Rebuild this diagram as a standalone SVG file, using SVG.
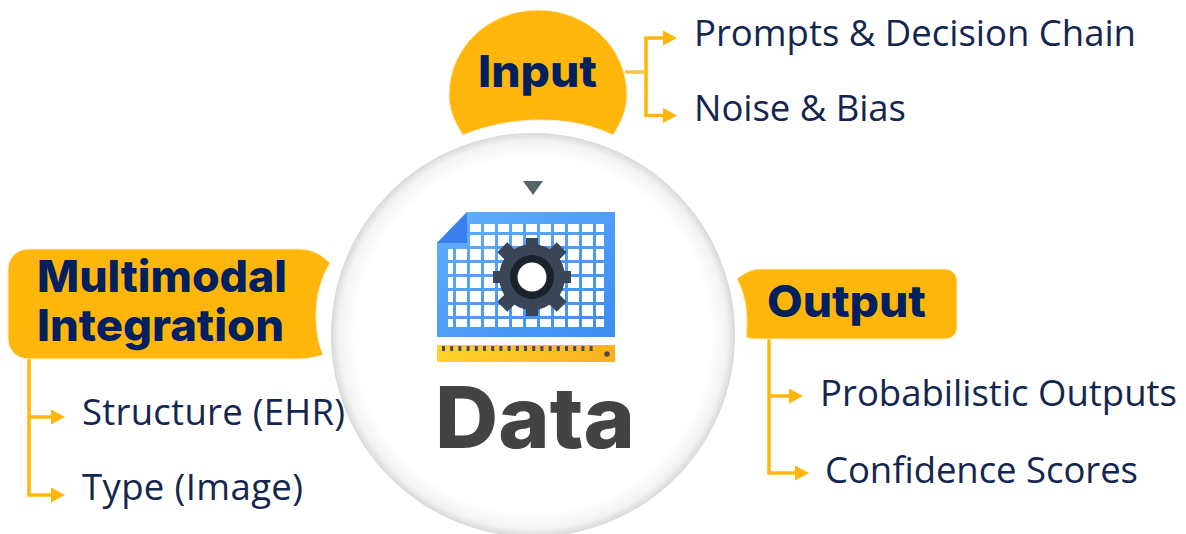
<svg xmlns="http://www.w3.org/2000/svg" width="1186" height="534" viewBox="0 0 1186 534">
<style>
.lbl{font-family:"Open Sans","Liberation Sans",sans-serif;font-size:36.500px;fill:#14264f}
.hd{font-family:Inter,"Liberation Sans",sans-serif;font-weight:800;font-size:44px;fill:#002060}
.badge{fill:#ffb60a;stroke:#fbeecb;stroke-width:1}
.c{fill:none;stroke:#ffb60a;stroke-width:3.500}
</style>
<defs>
<radialGradient id="disc" gradientUnits="userSpaceOnUse" cx="533" cy="335" r="202">
<stop offset="0.88" stop-color="#fff"/><stop offset="0.96" stop-color="#f3f3f3"/><stop offset="0.995" stop-color="#dcdcdc"/><stop offset="1" stop-color="#d4d4d4"/>
</radialGradient>
<linearGradient id="sheet" x1="0" y1="0" x2="1" y2="1"><stop offset="0" stop-color="#62aeff"/><stop offset="1" stop-color="#3d8cf0"/></linearGradient>
<linearGradient id="ruler" x1="0" y1="0" x2="1" y2="0"><stop offset="0" stop-color="#ffd42a"/><stop offset="1" stop-color="#fbb020"/></linearGradient>
<marker id="ah" markerUnits="userSpaceOnUse" markerWidth="14" markerHeight="15" refX="0" refY="7.500" orient="auto"><path d="M0 0L14 7.500L0 15Z" fill="#ffb60a"/></marker>
</defs>
<g id="connectors">
<path class="c" d="M625 72H646" stroke-width="4" style="stroke:#f7c44f"/>
<path class="c" d="M646 38V116"/>
<path class="c" d="M644.300 38H663" marker-end="url(#ah)"/>
<path class="c" d="M644.300 115.500H663" marker-end="url(#ah)"/>
<path class="c" d="M29 358V495"/>
<path class="c" d="M29 417H51" marker-end="url(#ah)"/>
<path class="c" d="M27.300 495H51" marker-end="url(#ah)"/>
<path class="c" d="M769 339V473"/>
<path class="c" d="M769 396H789" marker-end="url(#ah)"/>
<path class="c" d="M767.300 473H795" marker-end="url(#ah)"/>
</g>
<g id="data">
<circle cx="533" cy="335" r="202" fill="url(#disc)"/>
<path d="M523 181H543L533 195Z" fill="#56646c"/>
<path d="M467 212H615V337H437V243Z" fill="url(#sheet)"/>
<path d="M467 212V243H437Z" fill="#3a7fec"/>
<g fill="#fff">
<path d="M470 224h11v8h-11zM484 224h11v8h-11zM498 224h11v8h-11zM512 224h11v8h-11zM526 224h11v8h-11zM540 224h11v8h-11zM554 224h11v8h-11zM568 224h11v8h-11zM582 224h11v8h-11zM596 224h8v8h-8z"/>
<path d="M470 235h11v11h-11zM484 235h11v11h-11zM498 235h11v11h-11zM512 235h11v11h-11zM526 235h11v11h-11zM540 235h11v11h-11zM554 235h11v11h-11zM568 235h11v11h-11zM582 235h11v11h-11zM596 235h8v11h-8z"/>
<path d="M448 249h5v11h-5zM456 249h11v11h-11zM470 249h11v11h-11zM484 249h11v11h-11zM498 249h11v11h-11zM512 249h11v11h-11zM526 249h11v11h-11zM540 249h11v11h-11zM554 249h11v11h-11zM568 249h11v11h-11zM582 249h11v11h-11zM596 249h8v11h-8z"/>
<path d="M448 263h5v11h-5zM456 263h11v11h-11zM470 263h11v11h-11zM484 263h11v11h-11zM498 263h11v11h-11zM512 263h11v11h-11zM526 263h11v11h-11zM540 263h11v11h-11zM554 263h11v11h-11zM568 263h11v11h-11zM582 263h11v11h-11zM596 263h8v11h-8z"/>
<path d="M448 277h5v11h-5zM456 277h11v11h-11zM470 277h11v11h-11zM484 277h11v11h-11zM498 277h11v11h-11zM512 277h11v11h-11zM526 277h11v11h-11zM540 277h11v11h-11zM554 277h11v11h-11zM568 277h11v11h-11zM582 277h11v11h-11zM596 277h8v11h-8z"/>
<path d="M448 291h5v11h-5zM456 291h11v11h-11zM470 291h11v11h-11zM484 291h11v11h-11zM498 291h11v11h-11zM512 291h11v11h-11zM526 291h11v11h-11zM540 291h11v11h-11zM554 291h11v11h-11zM568 291h11v11h-11zM582 291h11v11h-11zM596 291h8v11h-8z"/>
<path d="M448 305h5v11h-5zM456 305h11v11h-11zM470 305h11v11h-11zM484 305h11v11h-11zM498 305h11v11h-11zM512 305h11v11h-11zM526 305h11v11h-11zM540 305h11v11h-11zM554 305h11v11h-11zM568 305h11v11h-11zM582 305h11v11h-11zM596 305h8v11h-8z"/>
<path d="M448 319h5v8h-5zM456 319h11v8h-11zM470 319h11v8h-11zM484 319h11v8h-11zM498 319h11v8h-11zM512 319h11v8h-11zM526 319h11v8h-11zM540 319h11v8h-11zM554 319h11v8h-11zM568 319h11v8h-11zM582 319h11v8h-11zM596 319h8v8h-8z"/>
</g>
<g fill="#3a4558">
<circle cx="532" cy="277" r="33"/>
<rect x="526" y="238" width="12" height="78"/>
<rect x="493" y="271" width="78" height="12"/>
<rect x="525" y="235" width="14" height="84" transform="rotate(45 532 277)"/>
<rect x="525" y="235" width="14" height="84" transform="rotate(-45 532 277)"/>
</g>
<circle cx="532" cy="277" r="22" fill="#1a222e"/>
<circle cx="532" cy="277" r="14.500" fill="#fff"/>
<rect x="437" y="345" width="178" height="17" fill="url(#ruler)"/>
<path d="M442 348.500H596" stroke="#4a4a4a" stroke-width="5" stroke-dasharray="3 5.200" fill="none"/>
<circle cx="607" cy="354" r="2.700" fill="#4a4a4a"/>
<text x="435" y="448" textLength="200" lengthAdjust="spacingAndGlyphs" font-family="Inter,'Liberation Sans',sans-serif" font-weight="800" font-size="85" fill="#434343">Data</text>
</g>
<g id="input">
<path class="badge" d="M463 135C453 120 449 108 449 95C449 47 489 10 538 10C587 10 627 47 627 95C627 108 622 122 613 135C590 124 565 120 540 120C515 120 487 125 463 135Z"/>
<text class="hd" x="478" y="87" textLength="119" lengthAdjust="spacingAndGlyphs">Input</text>
<text class="lbl" x="694" y="46" textLength="442">Prompts &amp; Decision Chain</text>
<text class="lbl" x="694" y="121" textLength="212">Noise &amp; Bias</text>
</g>
<g id="multimodal">
<path class="badge" d="M30 249H300C312 249 322 255 330 263C320 280 316 298 316 316C316 332 319 345 323 355C312 358 304 359 296 359H30C16 359 8 350 8 338V270C8 258 16 249 30 249Z"/>
<text class="hd" x="37" y="292" textLength="250" lengthAdjust="spacingAndGlyphs">Multimodal</text>
<text class="hd" x="37" y="341" textLength="247" lengthAdjust="spacingAndGlyphs">Integration</text>
<text class="lbl" x="82" y="425" textLength="263">Structure (EHR)</text>
<text class="lbl" x="82" y="500" textLength="221">Type (Image)</text>
</g>
<g id="output">
<path class="badge" d="M737 279C744 273 752 269 760 269H945C952 269 957 275 957 281V327C957 334 952 339 945 339H760C754 339 749 339 746 337C748 320 747 297 737 279Z"/>
<text class="hd" x="767" y="317" textLength="159" lengthAdjust="spacingAndGlyphs">Output</text>
<text class="lbl" x="820" y="406" textLength="357">Probabilistic Outputs</text>
<text class="lbl" x="825" y="483" textLength="313">Confidence Scores</text>
</g>
</svg>
